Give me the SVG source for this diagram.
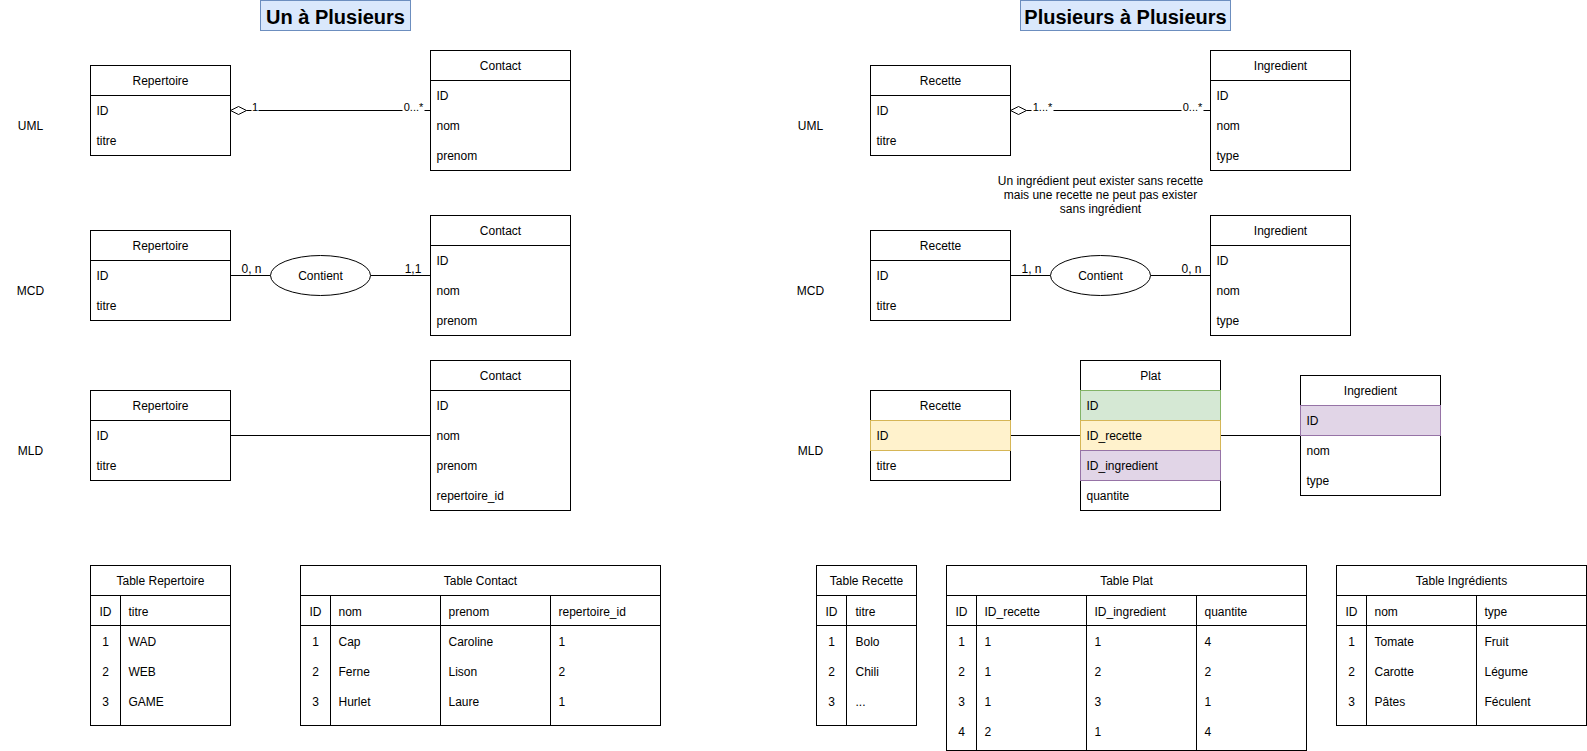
<svg xmlns="http://www.w3.org/2000/svg" width="1587" height="751" viewBox="0 0 1587 751">
<style>
text{font-family:"Liberation Sans",Arial,Helvetica,sans-serif;font-size:12px;fill:#000}
.box{fill:#fff;stroke:#000;stroke-width:1}
.ln{stroke:#000;stroke-width:1;fill:none}
.c{text-anchor:middle}
.title{font-size:20px;font-weight:bold}
.tbox{fill:#dae8fc;stroke:#6c8ebf}
.lbl{font-size:11px}
.green{fill:#d5e8d4;stroke:#82b366}
.yellow{fill:#fff2cc;stroke:#d6b656}
.purple{fill:#e1d5e7;stroke:#9673a6}
.bg{fill:#fff;stroke:none}
.dia{fill:#fff;stroke:#000;stroke-width:1}
</style>
<rect x="0" y="0" width="1587" height="751" fill="#fff"/>
<g transform="translate(0.5,0.5)">

<g id="title-left"><rect class="tbox" x="260" y="0" width="150" height="30"/><text class="c title" x="335" y="23">Un à Plusieurs</text></g>
<g id="title-right"><rect class="tbox" x="1020" y="0" width="210" height="30"/><text class="c title" x="1125" y="23">Plusieurs à Plusieurs</text></g>

<g id="side-labels">
<text class="c" x="30" y="129">UML</text>
<text class="c" x="30" y="294">MCD</text>
<text class="c" x="30" y="454">MLD</text>
<text class="c" x="810" y="129">UML</text>
<text class="c" x="810" y="294">MCD</text>
<text class="c" x="810" y="454">MLD</text>
</g>

<!-- connectors -->
<g id="connectors">
<line class="ln" x1="246" y1="110" x2="430" y2="110"/>
<polygon class="dia" points="230,110 238,106 246,110 238,114"/>
<rect class="bg" x="251" y="100" width="7" height="12"/>
<text class="c lbl" x="254.5" y="110.5">1</text>
<rect class="bg" x="402" y="100" width="22" height="12"/>
<text class="c lbl" x="413" y="110.5">0...*</text>

<line class="ln" x1="230" y1="275" x2="270" y2="275"/>
<line class="ln" x1="370" y1="275" x2="430" y2="275"/>
<text class="c" x="251" y="272">0, n</text>
<text class="c" x="412.5" y="272">1,1</text>

<line class="ln" x1="230" y1="435" x2="430" y2="435"/>

<line class="ln" x1="1026" y1="110" x2="1210" y2="110"/>
<polygon class="dia" points="1010,110 1018,106 1026,110 1018,114"/>
<rect class="bg" x="1031" y="100" width="22" height="12"/>
<text class="c lbl" x="1042" y="110.5">1...*</text>
<rect class="bg" x="1181" y="100" width="22" height="12"/>
<text class="c lbl" x="1192" y="110.5">0...*</text>

<line class="ln" x1="1010" y1="275" x2="1050" y2="275"/>
<line class="ln" x1="1150" y1="275" x2="1210" y2="275"/>
<text class="c" x="1031" y="272">1, n</text>
<text class="c" x="1191" y="272">0, n</text>

<line class="ln" x1="1010" y1="435" x2="1080" y2="435"/>
<line class="ln" x1="1220" y1="435" x2="1300" y2="435"/>
</g>

<!-- left UML -->
<g id="uml-repertoire"><rect class="box" x="90" y="65" width="140" height="90"/><line class="ln" x1="90" y1="95" x2="230" y2="95"/><text class="c" x="160" y="84">Repertoire</text><text x="96" y="114">ID</text><text x="96" y="144">titre</text></g>
<g id="uml-contact"><rect class="box" x="430" y="50" width="140" height="120"/><line class="ln" x1="430" y1="80" x2="570" y2="80"/><text class="c" x="500" y="69">Contact</text><text x="436" y="99">ID</text><text x="436" y="129">nom</text><text x="436" y="159">prenom</text></g>

<!-- left MCD -->
<g id="mcd-repertoire"><rect class="box" x="90" y="230" width="140" height="90"/><line class="ln" x1="90" y1="260" x2="230" y2="260"/><text class="c" x="160" y="249">Repertoire</text><text x="96" y="279">ID</text><text x="96" y="309">titre</text></g>
<g id="mcd-contient"><ellipse class="box" cx="320" cy="275" rx="50" ry="20"/><text class="c" x="320" y="279">Contient</text></g>
<g id="mcd-contact"><rect class="box" x="430" y="215" width="140" height="120"/><line class="ln" x1="430" y1="245" x2="570" y2="245"/><text class="c" x="500" y="234">Contact</text><text x="436" y="264">ID</text><text x="436" y="294">nom</text><text x="436" y="324">prenom</text></g>

<!-- left MLD -->
<g id="mld-repertoire"><rect class="box" x="90" y="390" width="140" height="90"/><line class="ln" x1="90" y1="420" x2="230" y2="420"/><text class="c" x="160" y="409">Repertoire</text><text x="96" y="439">ID</text><text x="96" y="469">titre</text></g>
<g id="mld-contact"><rect class="box" x="430" y="360" width="140" height="150"/><line class="ln" x1="430" y1="390" x2="570" y2="390"/><text class="c" x="500" y="379">Contact</text><text x="436" y="409">ID</text><text x="436" y="439">nom</text><text x="436" y="469">prenom</text><text x="436" y="499">repertoire_id</text></g>

<!-- right UML -->
<g id="uml-recette"><rect class="box" x="870" y="65" width="140" height="90"/><line class="ln" x1="870" y1="95" x2="1010" y2="95"/><text class="c" x="940" y="84">Recette</text><text x="876" y="114">ID</text><text x="876" y="144">titre</text></g>
<g id="uml-ingredient"><rect class="box" x="1210" y="50" width="140" height="120"/><line class="ln" x1="1210" y1="80" x2="1350" y2="80"/><text class="c" x="1280" y="69">Ingredient</text><text x="1216" y="99">ID</text><text x="1216" y="129">nom</text><text x="1216" y="159">type</text></g>

<g id="note"><text class="c" x="1100" y="184">Un ingrédient peut exister sans recette</text><text class="c" x="1100" y="198">mais une recette ne peut pas exister</text><text class="c" x="1100" y="212">sans ingrédient</text></g>

<!-- right MCD -->
<g id="mcd-recette"><rect class="box" x="870" y="230" width="140" height="90"/><line class="ln" x1="870" y1="260" x2="1010" y2="260"/><text class="c" x="940" y="249">Recette</text><text x="876" y="279">ID</text><text x="876" y="309">titre</text></g>
<g id="mcd-contient2"><ellipse class="box" cx="1100" cy="275" rx="50" ry="20"/><text class="c" x="1100" y="279">Contient</text></g>
<g id="mcd-ingredient"><rect class="box" x="1210" y="215" width="140" height="120"/><line class="ln" x1="1210" y1="245" x2="1350" y2="245"/><text class="c" x="1280" y="234">Ingredient</text><text x="1216" y="264">ID</text><text x="1216" y="294">nom</text><text x="1216" y="324">type</text></g>

<!-- right MLD -->
<g id="mld-recette"><rect class="box" x="870" y="390" width="140" height="90"/><rect class="yellow" x="870" y="420" width="140" height="30"/><text class="c" x="940" y="409">Recette</text><text x="876" y="439">ID</text><text x="876" y="469">titre</text></g>
<g id="mld-plat"><rect class="box" x="1080" y="360" width="140" height="150"/><rect class="green" x="1080" y="390" width="140" height="30"/><rect class="yellow" x="1080" y="420" width="140" height="30"/><rect class="purple" x="1080" y="450" width="140" height="30"/><text class="c" x="1150" y="379">Plat</text><text x="1086" y="409">ID</text><text x="1086" y="439">ID_recette</text><text x="1086" y="469">ID_ingredient</text><text x="1086" y="499">quantite</text></g>
<g id="mld-ingredient"><rect class="box" x="1300" y="375" width="140" height="120"/><rect class="purple" x="1300" y="405" width="140" height="30"/><text class="c" x="1370" y="394">Ingredient</text><text x="1306" y="424">ID</text><text x="1306" y="454">nom</text><text x="1306" y="484">type</text></g>

<!-- tables -->
<g id="table-repertoire"><rect class="box" x="90" y="565" width="140" height="160"/><line class="ln" x1="90" y1="595" x2="230" y2="595"/><line class="ln" x1="90" y1="625" x2="230" y2="625"/><line class="ln" x1="120" y1="595" x2="120" y2="725"/>
<text class="c" x="160" y="584">Table Repertoire</text>
<text class="c" x="105" y="615">ID</text><text x="128" y="615">titre</text>
<text class="c" x="105" y="645">1</text><text x="128" y="645">WAD</text>
<text class="c" x="105" y="675">2</text><text x="128" y="675">WEB</text>
<text class="c" x="105" y="705">3</text><text x="128" y="705">GAME</text></g>

<g id="table-contact"><rect class="box" x="300" y="565" width="360" height="160"/><line class="ln" x1="300" y1="595" x2="660" y2="595"/><line class="ln" x1="300" y1="625" x2="660" y2="625"/><line class="ln" x1="330" y1="595" x2="330" y2="725"/><line class="ln" x1="440" y1="595" x2="440" y2="725"/><line class="ln" x1="550" y1="595" x2="550" y2="725"/>
<text class="c" x="480" y="584">Table Contact</text>
<text class="c" x="315" y="615">ID</text><text x="338" y="615">nom</text><text x="448" y="615">prenom</text><text x="558" y="615">repertoire_id</text>
<text class="c" x="315" y="645">1</text><text x="338" y="645">Cap</text><text x="448" y="645">Caroline</text><text x="558" y="645">1</text>
<text class="c" x="315" y="675">2</text><text x="338" y="675">Ferne</text><text x="448" y="675">Lison</text><text x="558" y="675">2</text>
<text class="c" x="315" y="705">3</text><text x="338" y="705">Hurlet</text><text x="448" y="705">Laure</text><text x="558" y="705">1</text></g>

<g id="table-recette"><rect class="box" x="816" y="565" width="100" height="160"/><line class="ln" x1="816" y1="595" x2="916" y2="595"/><line class="ln" x1="816" y1="625" x2="916" y2="625"/><line class="ln" x1="846" y1="595" x2="846" y2="725"/>
<text class="c" x="866" y="584">Table Recette</text>
<text class="c" x="831" y="615">ID</text><text x="855" y="615">titre</text>
<text class="c" x="831" y="645">1</text><text x="855" y="645">Bolo</text>
<text class="c" x="831" y="675">2</text><text x="855" y="675">Chili</text>
<text class="c" x="831" y="705">3</text><text x="855" y="705">...</text></g>

<g id="table-plat"><rect class="box" x="946" y="565" width="360" height="185"/><line class="ln" x1="946" y1="595" x2="1306" y2="595"/><line class="ln" x1="946" y1="625" x2="1306" y2="625"/><line class="ln" x1="976" y1="595" x2="976" y2="750"/><line class="ln" x1="1086" y1="595" x2="1086" y2="750"/><line class="ln" x1="1196" y1="595" x2="1196" y2="750"/>
<text class="c" x="1126" y="584">Table Plat</text>
<text class="c" x="961" y="615">ID</text><text x="984" y="615">ID_recette</text><text x="1094" y="615">ID_ingredient</text><text x="1204" y="615">quantite</text>
<text class="c" x="961" y="645">1</text><text x="984" y="645">1</text><text x="1094" y="645">1</text><text x="1204" y="645">4</text>
<text class="c" x="961" y="675">2</text><text x="984" y="675">1</text><text x="1094" y="675">2</text><text x="1204" y="675">2</text>
<text class="c" x="961" y="705">3</text><text x="984" y="705">1</text><text x="1094" y="705">3</text><text x="1204" y="705">1</text>
<text class="c" x="961" y="735">4</text><text x="984" y="735">2</text><text x="1094" y="735">1</text><text x="1204" y="735">4</text></g>

<g id="table-ingredients"><rect class="box" x="1336" y="565" width="250" height="160"/><line class="ln" x1="1336" y1="595" x2="1586" y2="595"/><line class="ln" x1="1336" y1="625" x2="1586" y2="625"/><line class="ln" x1="1366" y1="595" x2="1366" y2="725"/><line class="ln" x1="1476" y1="595" x2="1476" y2="725"/>
<text class="c" x="1461" y="584">Table Ingrédients</text>
<text class="c" x="1351" y="615">ID</text><text x="1374" y="615">nom</text><text x="1484" y="615">type</text>
<text class="c" x="1351" y="645">1</text><text x="1374" y="645">Tomate</text><text x="1484" y="645">Fruit</text>
<text class="c" x="1351" y="675">2</text><text x="1374" y="675">Carotte</text><text x="1484" y="675">Légume</text>
<text class="c" x="1351" y="705">3</text><text x="1374" y="705">Pâtes</text><text x="1484" y="705">Féculent</text></g>

</g>
</svg>
